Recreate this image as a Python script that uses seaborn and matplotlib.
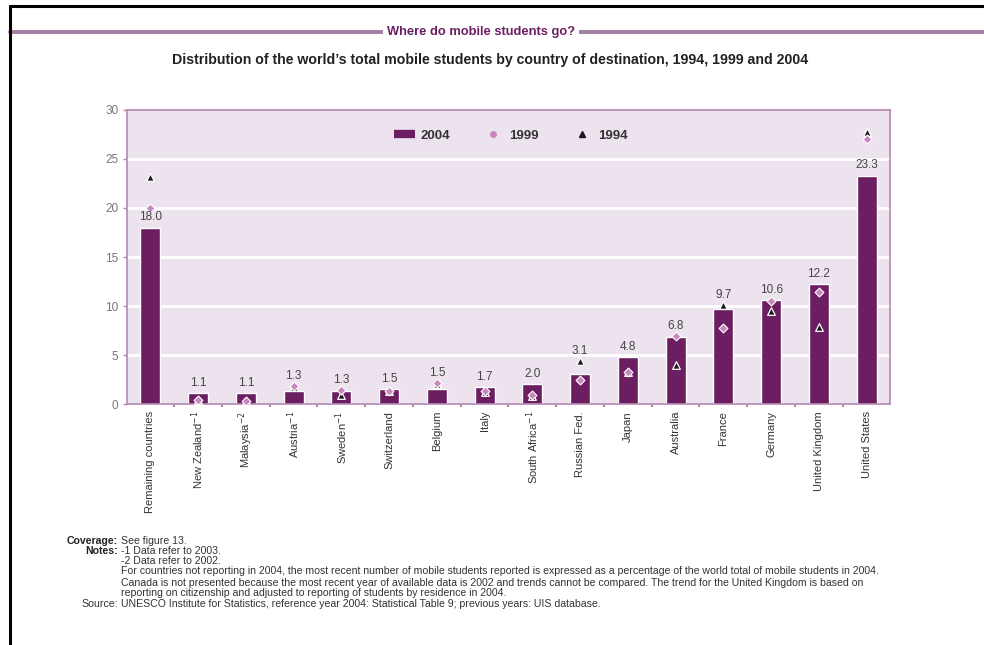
import numpy as np
import pandas as pd
import matplotlib
matplotlib.use("Agg")
import matplotlib.pyplot as plt
from matplotlib.lines import Line2D
import seaborn as sns

# Share of the world's mobile students by destination country (%)
countries = [
    "Remaining countries", "New Zealand$^{-1}$", "Malaysia$^{-2}$", "Austria$^{-1}$",
    "Sweden$^{-1}$", "Switzerland", "Belgium", "Italy", "South Africa$^{-1}$",
    "Russian Fed.", "Japan", "Australia", "France", "Germany",
    "United Kingdom", "United States",
]
share_2004 = [18.0, 1.1, 1.1, 1.3, 1.3, 1.5, 1.5, 1.7, 2.0, 3.1, 4.8, 6.8, 9.7, 10.6, 12.2, 23.3]
share_1999 = [20.0, 0.4, 0.3, 1.8, 1.4, 1.3, 2.1, 1.3, 0.9, 2.5, 3.3, 6.9, 7.8, 10.5, 11.4, 27.0]
share_1994 = [23.2, 0.4, 0.3, 1.7, 0.9, 1.3, 2.0, 1.2, 0.8, 4.4, 3.3, 4.0, 10.1, 9.5, 7.9, 27.8]
y_ticks = [0, 5, 10, 15, 20, 25, 30]

df = pd.DataFrame({
    "country": countries,
    "y2004": share_2004,
    "y1999": share_1999,
    "y1994": share_1994,
})

PURPLE = "#6b1f62"
PINK = "#c985bf"
FRAME = "#b48ab2"
PANEL = "#ede3ee"

sns.set_theme(style="white")
plt.rcParams["font.family"] = ["DejaVu Sans Condensed", "Liberation Sans Narrow", "Liberation Sans", "DejaVu Sans"]

fig = plt.figure(figsize=(9.84, 6.45), dpi=100)
ax = fig.add_axes([0.129, 0.3736, 0.7755, 0.4559])
ax.set_facecolor(PANEL)

sns.barplot(data=df, x="country", y="y2004", color=PURPLE, saturation=1,
            width=0.42, ax=ax, zorder=2)

sns.stripplot(data=df, x="country", y="y1994", jitter=False, marker="^", size=5.5,
              color="#1a1a1a", edgecolor="white", linewidth=0.9, ax=ax, zorder=3)
sns.stripplot(data=df, x="country", y="y1999", jitter=False, marker="D", size=4.5,
              color=PINK, edgecolor="white", linewidth=0.8, ax=ax, zorder=4)

# value labels above each 2004 bar, lifted over any earlier-year marker sitting just above it
for i, (v, a, b) in enumerate(zip(share_2004, share_1999, share_1994)):
    top = max([v] + [m for m in (a, b) if v < m <= v + 1.5])
    ax.annotate(f"{v:.1f}", (i, top), xytext=(0, 3), textcoords="offset points",
                ha="center", va="bottom", fontsize=8.5, color="#444444", zorder=5)

ax.set_ylim(0, 30)
ax.set_xlim(-0.49, len(countries) - 0.51)
ax.set_yticks(y_ticks)
ax.set_yticklabels([str(t) for t in y_ticks], fontsize=8.5, color="#777777")
for t in y_ticks[1:-1]:
    ax.axhline(t, color="white", lw=2, zorder=1)

ax.set_xticks(range(len(countries)))
ax.set_xticklabels(countries, rotation=90, fontsize=8, color="#333333", va="top")
ax.set_xticks(np.arange(0.5, len(countries) - 1, 1.0), minor=True)
ax.tick_params(axis="x", which="major", length=0, pad=5)
ax.tick_params(axis="x", which="minor", length=2.5, width=1.5, color=FRAME, direction="out", bottom=True)
ax.tick_params(axis="y", length=3, width=1, color=FRAME, direction="out", left=True, pad=3)
ax.set_xlabel("")
ax.set_ylabel("")
for s in ax.spines.values():
    s.set_color(FRAME)
    s.set_linewidth(1.2)
    s.set_visible(True)

handles = [
    Line2D([], [], color=PURPLE, lw=6, solid_capstyle="butt"),
    Line2D([], [], color=PINK, marker="o", ms=4, lw=0),
    Line2D([], [], color="#1a1a1a", marker="^", ms=4.5, lw=0),
]
leg = ax.legend(handles, ["2004", "1999", "1994"], ncol=3, frameon=False,
                loc="center", bbox_to_anchor=(0.503, 0.912), handlelength=1.6,
                columnspacing=2.5, handletextpad=0.4,
                prop={"size": 9.5, "weight": "bold"})
for txt in leg.get_texts():
    txt.set_color("#333333")

# page frame
fig.add_artist(Line2D([10 / 984, 1], [1 - 6 / 645] * 2, color="black", lw=2.2, transform=fig.transFigure))
fig.add_artist(Line2D([10 / 984] * 2, [0, 1 - 6 / 645], color="black", lw=2.2, transform=fig.transFigure))

# heading with a rule running behind it
ty = 1 - 32 / 645
fig.add_artist(Line2D([10 / 984, 1], [ty] * 2, color="#a27ea4", lw=2.8,
                      transform=fig.transFigure, zorder=1))
fig.text(481 / 984, ty, "Where do mobile students go?", ha="center", va="center",
         fontsize=9.3, fontweight="bold", color=PURPLE, zorder=3,
         bbox=dict(facecolor="white", edgecolor="none", pad=3))

fig.text(490 / 984, 1 - 60 / 645,
         "Distribution of the world\u2019s total mobile students by country of destination, 1994, 1999 and 2004",
         ha="center", va="center", fontsize=10.2, fontweight="bold", color="#222222")

# notes
note_fs = 7.55
lx = 118 / 984
rx = 121 / 984
def row(y):
    return 1 - y / 645

fig.text(lx, row(541), "Coverage:", ha="right", va="center", fontsize=note_fs, fontweight="bold", color="#222222")
fig.text(rx, row(541), "See figure 13.", ha="left", va="center", fontsize=note_fs, color="#333333")
fig.text(lx, row(551), "Notes:", ha="right", va="center", fontsize=note_fs, fontweight="bold", color="#222222")
note_lines = [
    (551, "-1 Data refer to 2003."),
    (560.5, "-2 Data refer to 2002."),
    (571, "For countries not reporting in 2004, the most recent number of mobile students reported is expressed as a percentage of the world total of mobile students in 2004."),
    (583, "Canada is not presented because the most recent year of available data is 2002 and trends cannot be compared. The trend for the United Kingdom is based on"),
    (593.5, "reporting on citizenship and adjusted to reporting of students by residence in 2004."),
]
for y, s in note_lines:
    fig.text(rx, row(y), s, ha="left", va="center", fontsize=note_fs, color="#333333")
fig.text(lx, row(604), "Source:", ha="right", va="center", fontsize=note_fs, color="#333333")
fig.text(rx, row(604), "UNESCO Institute for Statistics, reference year 2004: Statistical Table 9; previous years: UIS database.",
         ha="left", va="center", fontsize=note_fs, color="#333333")

fig.savefig("out.png", dpi=100, facecolor="white")
